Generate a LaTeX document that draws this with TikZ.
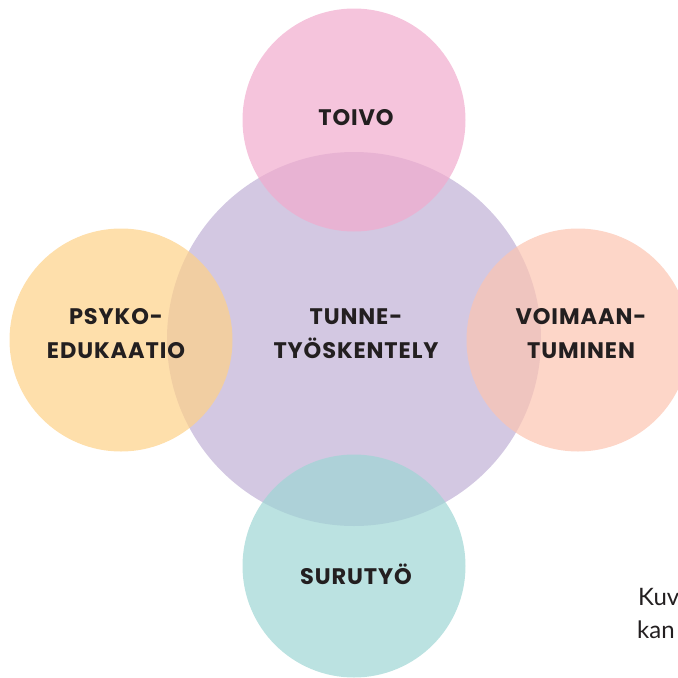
\documentclass[tikz,border=0pt]{standalone}
\usepackage{fontspec}
\setmainfont{Poppins}
\newfontfamily\capt{Lato}
\definecolor{cpurple}{HTML}{D3C8E2}
\definecolor{cpink}{RGB}{241,171,205}
\definecolor{cteal}{RGB}{158,214,212}
\definecolor{corange}{RGB}{254,209,136}
\definecolor{cpeach}{RGB}{252,196,177}
\definecolor{ctext}{HTML}{231F20}
\tikzset{
  bigcirc/.style={circle, inner sep=0pt, minimum size=374pt, fill=cpurple},
  smallcirc/.style={circle, inner sep=0pt, minimum size=223pt, fill opacity=0.7},
  lbl/.style={text=ctext, align=center, inner sep=0pt, font=\fontsize{22.5}{34}\selectfont\addfontfeatures{LetterSpace=4}\bfseries},
  captxt/.style={text=ctext, anchor=base west, inner sep=0pt, font=\capt\fontsize{24}{33}\selectfont}
}
\begin{document}
\begin{tikzpicture}[x=1pt,y=-1pt]
\useasboundingbox (0,0) rectangle (678,678);
\clip (0,0) rectangle (678,678);
\node[bigcirc] (mid) at (354,339) {};
\node[smallcirc, fill=cpink] (top) at (354,120) {};
\node[smallcirc, fill=corange] (left) at (121,340) {};
\node[smallcirc, fill=cpeach] (right) at (578,340) {};
\node[smallcirc, fill=cteal] (bot) at (354,566) {};
\node[lbl] (tmid) at (356,334) {TUNNE-\\TYÖSKENTELY};
\node[lbl] (ttop) at (356,117.5) {TOIVO};
\node[lbl] (tleft) at (116,334) {PSYKO-\\EDUKAATIO};
\node[lbl] (tright) at (581,334) {VOIMAAN-\\TUMINEN};
\node[lbl] (tbot) at (356,574.5) {SURUTYÖ};
\node[captxt] (c1) at (638,605) {Kuv};
\node[captxt] (c2) at (637,638) {kan};
\end{tikzpicture}
\end{document}
